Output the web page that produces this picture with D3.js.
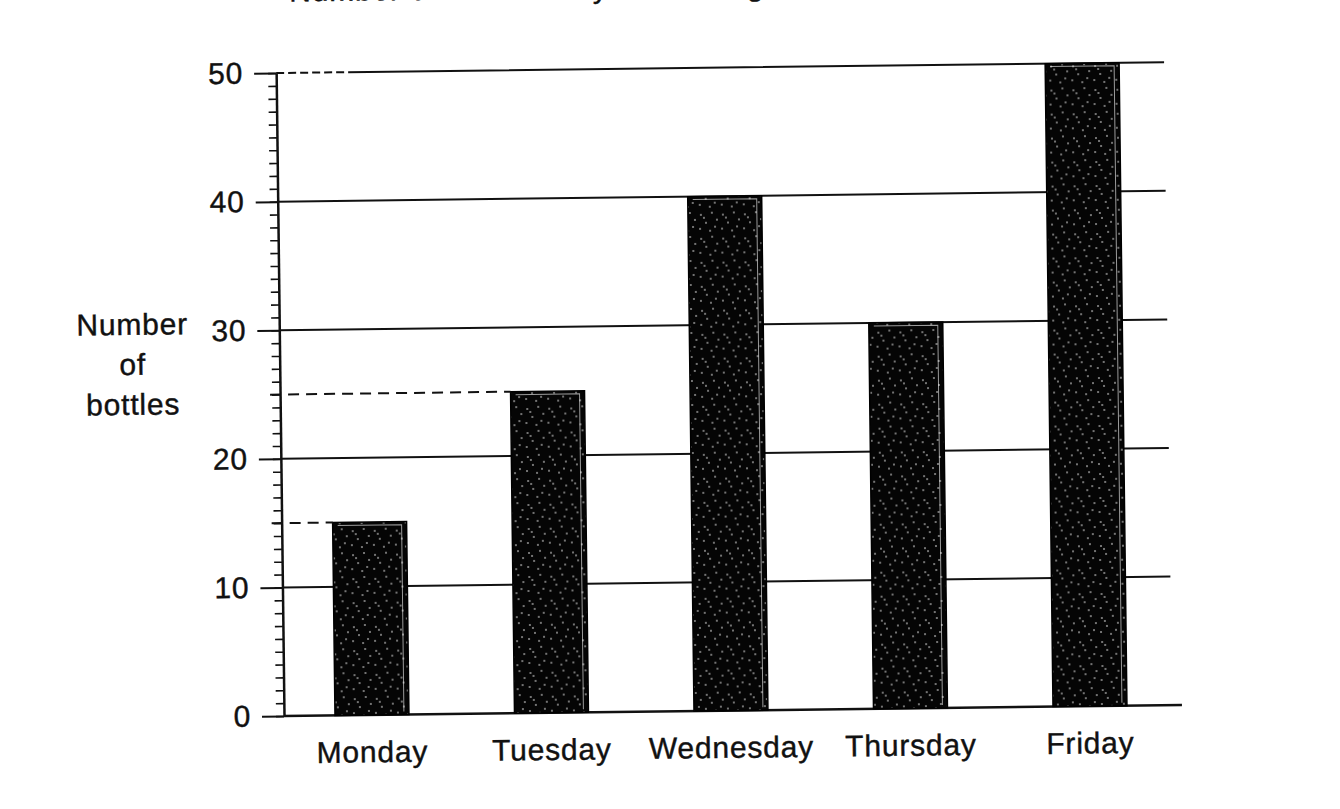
<!DOCTYPE html>
<html>
<head>
<meta charset="utf-8">
<script src="https://cdn.jsdelivr.net/npm/d3@7/dist/d3.min.js"></script>
<style>
  html, body { margin: 0; padding: 0; background: #fff; }
  svg { display: block; }
  text { font-family: "Liberation Sans", Arial, Helvetica, sans-serif; fill: #111; }
</style>
</head>
<body>
<svg id="chart" width="1340" height="809"></svg>
<script>
// ---- data ----
const days = ["Monday", "Tuesday", "Wednesday", "Thursday", "Friday"];
const bottles = [15, 25, 40, 30, 50];
const yTickValues = [0, 10, 20, 30, 40, 50];
const refDays = ["Monday", "Tuesday"];           // dashed read-off lines
const yLabelLines = ["Number", "of", "bottles"];
const titleText = "Number of bottles recycled during the week";

// ---- layout ----
const x0 = 284, x1 = 1178;     // plot horizontal extent
const yBottom = 716, yTop = 73;
const fontSize = 30;
const textStyle = sel => sel
  .attr("font-size", fontSize)
  .attr("font-family", "'Liberation Sans', Arial, sans-serif")
  .attr("letter-spacing", "0.8px")
  .attr("fill", "#111").attr("stroke", "#111").attr("stroke-width", 0.4);

const svg = d3.select("#chart");
const defs = svg.append("defs");

// speckled texture for bars (style only)
const speck = [[3,4],[14,2],[8,12],[19,9],[2,18],[12,20],[17,16],[6,7]];
const pat = defs.append("pattern").attr("id", "speckle")
  .attr("patternUnits", "userSpaceOnUse").attr("width", 22).attr("height", 24);
pat.append("rect").attr("width", 22).attr("height", 24).attr("fill", "#050505");
pat.selectAll("circle").data(speck).join("circle")
  .attr("cx", d => d[0]).attr("cy", d => d[1]).attr("r", 0.8).attr("fill", "#fff");

// whole scanned page is tilted slightly
const g = svg.append("g").attr("transform", `rotate(-0.7, ${x0}, ${yBottom})`);

const x = d3.scaleBand().domain(days).range([x0, x1])
  .paddingInner(0.588).paddingOuter(0.284);
const y = d3.scaleLinear().domain([0, 50]).range([yBottom, yTop]);

const data = days.map((d, i) => ({ day: d, value: bottles[i] }));

// title (cut off at top of scan)
g.append("text").attr("x", 298).attr("y", 1.5).call(textStyle).text(titleText);

// gridlines
g.append("g").selectAll("line").data(yTickValues.filter(v => v > 0)).join("line")
  .attr("x1", x0).attr("x2", x1 - 6)
  .attr("y1", d => y(d)).attr("y2", d => y(d))
  .attr("stroke", "#111").attr("stroke-width", 2)
  .attr("stroke-dasharray", d => d === 50 ? "8,4,8,4,8,4,8,4,8,4,8,4,3000,0" : null);

// baseline
g.append("line").attr("x1", x0).attr("x2", x1 + 4)
  .attr("y1", y(0)).attr("y2", y(0))
  .attr("stroke", "#111").attr("stroke-width", 2.5);

// bars
const bars = g.append("g").selectAll("g").data(data).join("g");
bars.append("rect")
  .attr("x", d => x(d.day)).attr("y", d => y(d.value))
  .attr("width", x.bandwidth()).attr("height", d => y(0) - y(d.value))
  .attr("fill", "url(#speckle)").attr("stroke", "#000").attr("stroke-width", 1.5);
bars.append("path")
  .attr("d", d => {
    const bx = x(d.day), bw = x.bandwidth(), ty = y(d.value);
    return `M${bx + 5},${ty + 3}H${bx + bw - 5}V${y(0) - 3}`;
  })
  .attr("fill", "none").attr("stroke", "#fff").attr("stroke-width", 1).attr("opacity", 0.6);

// dashed read-off lines
g.append("g").selectAll("line").data(data.filter(d => refDays.includes(d.day))).join("line")
  .attr("x1", x0 - 10).attr("x2", d => x(d.day))
  .attr("y1", d => y(d.value)).attr("y2", d => y(d.value))
  .attr("stroke", "#111").attr("stroke-width", 2).attr("stroke-dasharray", "11,7");

// y axis: minor ticks
const minor = g.append("g").attr("transform", `translate(${x0},0)`)
  .call(d3.axisLeft(y).ticks(50).tickSize(8).tickFormat(""));
minor.select(".domain").remove();
minor.selectAll(".tick line").attr("stroke", "#111").attr("stroke-width", 1.6);

// y axis: major ticks and labels
const yAxis = g.append("g").attr("transform", `translate(${x0},0)`)
  .call(d3.axisLeft(y).tickValues(yTickValues).tickSize(22).tickPadding(11).tickSizeOuter(0));
yAxis.select(".domain").attr("stroke", "#111").attr("stroke-width", 2.5);
yAxis.selectAll(".tick line").attr("stroke", "#111").attr("stroke-width", 2);
yAxis.selectAll(".tick text").call(textStyle);

// x axis labels
const xAxis = g.append("g").attr("transform", `translate(0,${y(0)})`)
  .call(d3.axisBottom(x).tickSize(0).tickPadding(26));
xAxis.select(".domain").remove();
xAxis.selectAll(".tick text").call(textStyle);

// y axis title
g.append("text").attr("text-anchor", "middle").call(textStyle)
  .selectAll("tspan").data(yLabelLines).join("tspan")
  .attr("x", 137).attr("y", (d, i) => 333 + i * 40).text(d => d);
</script>
</body>
</html>
